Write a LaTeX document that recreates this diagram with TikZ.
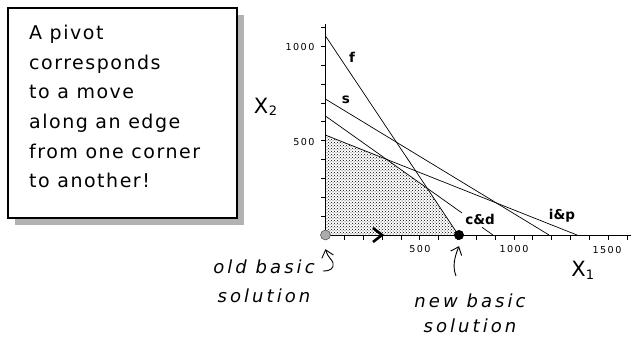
\documentclass[tikz,border=0pt]{standalone}
\usepackage{fontspec}
\setmainfont{DejaVu Sans}
\newfontfamily\boxfont{DejaVu Sans}[LetterSpace=8]
\newfontfamily\tickfont{DejaVu Sans}[LetterSpace=15]
\newfontfamily\handfont{DejaVu Sans}[LetterSpace=17]
\usetikzlibrary{patterns,arrows.meta}
\tikzset{
  ticklbl/.style={inner sep=0, font=\tickfont\fontsize{9.6}{10}\selectfont},
  linelbl/.style={inner sep=0, font=\bfseries\fontsize{13.5}{14}\selectfont},
  axislbl/.style={inner sep=0, font=\fontsize{21}{22}\selectfont},
  sublbl/.style={inner sep=0, font=\fontsize{13}{14}\selectfont},
  handlbl/.style={inner sep=0, font=\handfont\itshape\fontsize{18}{20}\selectfont},
  pointer/.style={line width=0.9pt, -{Straight Barb[length=7pt,width=12pt,line width=0.9pt]}},
  plotline/.style={line width=0.7pt}
}
\begin{document}
\begin{tikzpicture}[x=1pt,y=-1pt]
\useasboundingbox (0,0) rectangle (637,339);
% note box with shadow
\fill[gray!60] (15,15) rectangle (244,225);
\draw[fill=white, line width=1.2pt] (8,8) rectangle (237,218);
\node[anchor=north west, align=left, inner sep=0,
      font=\boxfont\fontsize{19}{29.6}\selectfont] (msg) at (29,25)
  {A pivot\\corresponds\\to a move\\along an edge\\from one corner\\to another!};
% axes
\coordinate (O) at (325.5,235);
\coordinate (ytop) at (325.5,24);
\coordinate (xend) at (631,235);
% feasible region and constraint lines
\begin{scope}[shift={(325.5,235)}, x=0.1885pt, y=0.1885pt]
  \fill[pattern=crosshatch dots] (0,0) -- (0,530) -- (322,402) -- (540,247) -- (705,0) -- cycle;
  \coordinate (f0) at (0,1056);  \coordinate (f1) at (705,0);
  \coordinate (s0) at (0,721);   \coordinate (s1) at (1186,0);
  \coordinate (c0) at (0,631);   \coordinate (c1) at (724,117);
  \coordinate (c2) at (830,41);  \coordinate (c3) at (888,0);
  \coordinate (i0) at (0,530);   \coordinate (i1) at (1334,0);
  \draw[plotline] (f0) -- (f1);
  \draw[plotline] (s0) -- (s1);
  \draw[plotline] (c0) -- (c1);
  \draw[plotline] (c2) -- (c3);
  \draw[plotline] (i0) -- (i1);
\end{scope}
\draw[line width=0.9pt] (O) -- (ytop);
\draw[line width=0.9pt] (O) -- (xend);
\foreach \i in {1,...,16} \draw[line width=0.8pt] (325.5+\i*18.85,235) -- ++(0,5);
\foreach \i in {1,...,11} \draw[line width=0.8pt] (325.5,235-\i*18.85) -- ++(-4.5,0);
% tick labels
\node[ticklbl] (y1000) at (300,47) {1000};
\node[ticklbl] (y500) at (304,142) {500};
\node[ticklbl] (x500) at (420,249) {500};
\node[ticklbl] (x1000) at (514,249) {1000};
\node[ticklbl] (x1500) at (607,250) {1500};
% axis labels
\node[axislbl] (X2) at (261,105.5) {X};
\node[sublbl] (X2s) at (273,111) {2};
\node[axislbl] (X1) at (578.5,268.5) {X};
\node[sublbl] (X1s) at (590,275) {1};
% line labels
\node[linelbl] (lf) at (352,57) {f};
\node[linelbl] (ls) at (346,100) {s};
\node[linelbl] (lcd) at (480,219) {c\&d};
\node[linelbl] (lip) at (562,216) {i\&p};
% corner points
\node[circle, fill=gray!65, draw=gray!40!black, minimum size=10pt, inner sep=0] (old) at (325.5,235) {};
\node[circle, fill=black, minimum size=10pt, inner sep=0] (new) at (459,235) {};
% direction chevron
\draw[line width=2.6pt] (373,228) -- (382,235) -- (373,242);
% handwritten labels
\node[handlbl] (old1) at (264,267) {old basic};
\node[handlbl] (old2) at (264,296) {solution};
\node[handlbl] (new1) at (470,301) {new basic};
\node[handlbl] (new2) at (470,326) {solution};
% pointers
\coordinate (oa) at (323,271);
\coordinate (na) at (456,276);
\draw[pointer] (oa) .. controls (331,271) and (334,268) .. (333,263)
  .. controls (332,259) and (328,258) .. ([yshift=-9pt]old.south);
\draw[pointer] (na) .. controls (452,266) and (455,256) .. ([yshift=-6pt]new.south);
\end{tikzpicture}
\end{document}
